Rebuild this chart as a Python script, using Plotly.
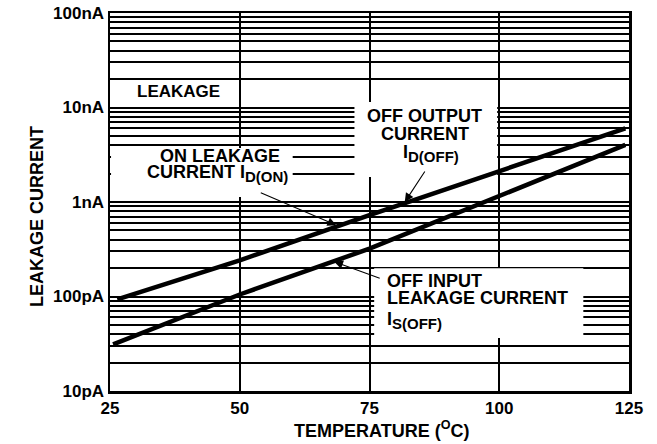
import plotly.graph_objects as go

# ---- data ----
temp_ticks = [25, 50, 75, 100, 125]
temp_tick_labels = ["25", "50", "75", "100", "125"]

decade_vals = [1e-11, 1e-10, 1e-9, 1e-8, 1e-7]
decade_labels = ["10pA", "100pA", "1nA", "10nA", "100nA"]

# ON leakage / OFF output current  (upper line)
temp_upper = [26.4, 50, 75, 100, 124.3]
i_upper = [9.3e-11, 2.41e-10, 7.26e-10, 2.13e-9, 6.0e-9]
# OFF input leakage current (lower line)
temp_lower = [25.6, 50, 75, 100, 124.3]
i_lower = [3.11e-11, 1.05e-10, 3.21e-10, 1.16e-9, 4.02e-9]

FONT = "Liberation Sans, Arial, Helvetica, sans-serif"

# gridline values: every 1..9 x decade
grid_vals, grid_text = [], []
for d, lab in zip(decade_vals[:-1], decade_labels[:-1]):
    for m in range(1, 10):
        grid_vals.append(d * m)
        grid_text.append(lab if m == 1 else "")
grid_vals.append(decade_vals[-1])
grid_text.append(decade_labels[-1])

fig = go.Figure()
fig.add_trace(go.Scatter(x=temp_upper, y=i_upper, mode="lines",
                         line=dict(color="black", width=4.5), showlegend=False,
                         hoverinfo="skip"))
fig.add_trace(go.Scatter(x=temp_lower, y=i_lower, mode="lines",
                         line=dict(color="black", width=4.5), showlegend=False,
                         hoverinfo="skip"))

# white label boxes (cover gridlines, stay under traces)
boxes = [
    (25.2, 60.2, -8.947, -8.429),   # ON LEAKAGE
    (72.1, 99.6, -8.735, -7.942),   # OFF OUTPUT
    (75.9, 116.2, -10.44, -9.70),   # OFF INPUT
]
for x0, x1, ly0, ly1 in boxes:
    fig.add_shape(type="rect", xref="x", yref="y", x0=x0, x1=x1,
                  y0=10 ** ly0, y1=10 ** ly1, fillcolor="white",
                  line=dict(width=0), layer="between")

def txt(x, ly, s, xanchor="center", size=18):
    fig.add_annotation(x=x, y=ly, xref="x", yref="y", text=s, showarrow=False,
                       xanchor=xanchor, yanchor="middle",
                       font=dict(family=FONT, size=size, color="black", weight="bold"))

SUB = "<sub><span style='font-size:15px'>%s</span></sub>"
txt(38.2, -7.831, "LEAKAGE", size=17)
txt(58.2, -8.514, "ON LEAKAGE", xanchor="right")
txt(59.6, -8.70, "CURRENT I" + SUB % "D(ON)", xanchor="right")
txt(85.6, -8.094, "OFF OUTPUT")
txt(85.7, -8.283, "CURRENT")
txt(86.9, -8.49, "I" + SUB % "D(OFF)")
txt(78.0, -9.840, "OFF INPUT", xanchor="left")
txt(78.0, -10.011, "LEAKAGE CURRENT", xanchor="left")
txt(78.0, -10.25, "I" + SUB % "S(OFF)", xanchor="left")

def arrow(x, ly, ax, ay):
    fig.add_annotation(x=x, y=ly, xref="x", yref="y", ax=ax, ay=ay,
                       axref="pixel", ayref="pixel", text="", showarrow=True,
                       arrowhead=2, arrowsize=1.6, arrowwidth=1.1,
                       arrowcolor="black", standoff=0)

arrow(68.6, -9.245, -77, -33)
arrow(81.8, -9.0, 21, -32)
arrow(68.2, -9.632, 47, 17)

# axis titles
fig.add_annotation(x=-0.1647, y=0.4616, xref="paper", yref="paper",
                   text="LEAKAGE CURRENT", textangle=-90, showarrow=False,
                   font=dict(family=FONT, size=18, color="black", weight="bold"))
fig.add_annotation(x=0.523, y=-0.103, xref="paper", yref="paper",
                   text="TEMPERATURE (<sup>O</sup>C)", showarrow=False,
                   yanchor="middle",
                   font=dict(family=FONT, size=18, color="black", weight="bold"))

fig.update_xaxes(range=[25, 125], tickvals=temp_ticks, ticktext=temp_tick_labels,
                 showgrid=True, gridcolor="black", gridwidth=2,
                 showline=True, linecolor="black", linewidth=2.5, mirror=True,
                 ticks="", zeroline=False, ticklabeloverflow="allow",
                 tickfont=dict(family=FONT, size=17, color="black", weight="bold"))
fig.update_yaxes(type="log", range=[-11, -7], tickvals=grid_vals, ticktext=grid_text,
                 showgrid=True, gridcolor="black", gridwidth=2,
                 showline=True, linecolor="black", linewidth=2.5, mirror=True,
                 ticks="", zeroline=False, ticklabeloverflow="allow",
                 tickfont=dict(family=FONT, size=17, color="black", weight="bold"))

fig.update_layout(width=657, height=444,
                  margin=dict(l=110, r=28, t=13, b=53, autoexpand=False),
                  paper_bgcolor="white", plot_bgcolor="white",
                  showlegend=False, hovermode=False)

fig.write_html("out.html",
               config={"displayModeBar": False, "staticPlot": True},
               post_script="document.body.style.margin='0';"
                           "document.body.style.overflow='hidden';")
